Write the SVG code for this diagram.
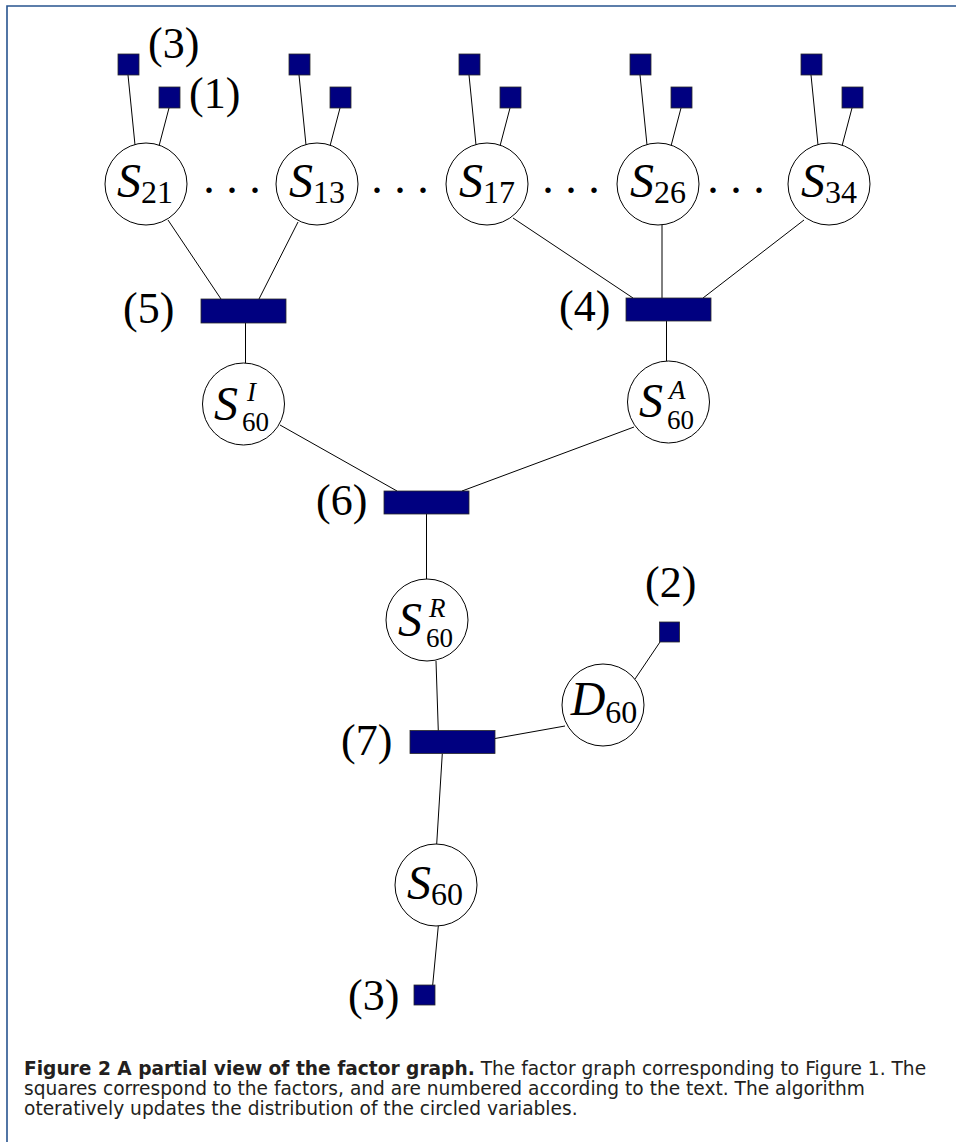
<svg xmlns="http://www.w3.org/2000/svg" width="956" height="1142" viewBox="0 0 956 1142">
<style>
  .frame{fill:none;stroke:#27548f;stroke-width:1.6}
  .fac{fill:#000080;stroke:#2a2a2a;stroke-width:0.8}
  .var{fill:#fff;stroke:#000;stroke-width:1}
  .edges line{stroke:#000;stroke-width:1}
  .lbl{font-family:"Liberation Serif",serif;font-size:44px;fill:#000}
  .m{font-family:"Liberation Serif",serif;font-style:italic;font-size:48px;fill:#000}
  .s{font-family:"Liberation Serif",serif;font-style:normal;font-size:32px}
  .si{font-family:"Liberation Serif",serif;font-style:italic;font-size:27px;fill:#000}
  .sn{font-family:"Liberation Serif",serif;font-style:normal;font-size:27px;fill:#000}
  .dots{font-family:"Liberation Serif",serif;font-size:46px;fill:#000}
  .cap{font-family:"DejaVu Sans","Liberation Sans",sans-serif;font-size:18.6px;fill:#231f20}
  .capb{font-weight:bold}
</style>
<path class="frame" d="M7 1142 V6 H956"/>

<g id="connectors" class="edges">
  <line x1="128" y1="75" x2="135" y2="145"/>
  <line x1="169" y1="108" x2="159" y2="146"/>
  <line x1="299" y1="75" x2="306" y2="145"/>
  <line x1="340" y1="108" x2="330" y2="146"/>
  <line x1="469" y1="75" x2="476" y2="145"/>
  <line x1="510" y1="108" x2="500" y2="146"/>
  <line x1="640" y1="75" x2="647" y2="145"/>
  <line x1="681" y1="108" x2="671" y2="146"/>
  <line x1="811" y1="75" x2="818" y2="145"/>
  <line x1="852" y1="108" x2="842" y2="146"/>
  <line x1="168" y1="220" x2="221" y2="299"/>
  <line x1="298" y1="222" x2="259" y2="299"/>
  <line x1="513" y1="218" x2="633" y2="298"/>
  <line x1="662" y1="225" x2="662" y2="298"/>
  <line x1="804" y1="220" x2="703" y2="298"/>
  <line x1="245.5" y1="323" x2="245.5" y2="363"/>
  <line x1="666.5" y1="321" x2="666.5" y2="361"/>
  <line x1="280" y1="425" x2="397" y2="491"/>
  <line x1="634" y1="427" x2="462" y2="491"/>
  <line x1="426.5" y1="514" x2="426.5" y2="579"/>
  <line x1="436" y1="661" x2="438.3" y2="731"/>
  <line x1="565" y1="726" x2="495" y2="738.5"/>
  <line x1="442.3" y1="753.5" x2="436.7" y2="844"/>
  <line x1="635" y1="679" x2="660" y2="642"/>
  <line x1="438.3" y1="926" x2="432.7" y2="985"/>
</g>

<g id="f3a"><rect class="fac" x="118" y="54" width="21" height="21"/><text class="lbl" x="148" y="58">(3)</text></g>
<g id="f1a"><rect class="fac" x="159" y="87" width="21" height="21"/><text class="lbl" x="189" y="108">(1)</text></g>
<g id="f13a"><rect class="fac" x="289" y="54" width="21" height="21"/></g>
<g id="f13b"><rect class="fac" x="330" y="87" width="21" height="21"/></g>
<g id="f17a"><rect class="fac" x="459" y="54" width="21" height="21"/></g>
<g id="f17b"><rect class="fac" x="500" y="87" width="21" height="21"/></g>
<g id="f26a"><rect class="fac" x="630" y="54" width="21" height="21"/></g>
<g id="f26b"><rect class="fac" x="671" y="87" width="21" height="21"/></g>
<g id="f34a"><rect class="fac" x="801" y="54" width="21" height="21"/></g>
<g id="f34b"><rect class="fac" x="842" y="87" width="21" height="21"/></g>

<g id="S21"><circle class="var" cx="146" cy="184" r="41"/><text class="m" x="145" y="197" text-anchor="middle">S<tspan class="s" dy="6">21</tspan></text></g>
<g id="S13"><circle class="var" cx="317" cy="184" r="41"/><text class="m" x="317" y="197" text-anchor="middle">S<tspan class="s" dy="6">13</tspan></text></g>
<g id="S17"><circle class="var" cx="487" cy="184" r="41"/><text class="m" x="487" y="197" text-anchor="middle">S<tspan class="s" dy="6">17</tspan></text></g>
<g id="S26"><circle class="var" cx="658" cy="184" r="41"/><text class="m" x="658" y="197" text-anchor="middle">S<tspan class="s" dy="6">26</tspan></text></g>
<g id="S34"><circle class="var" cx="829" cy="184" r="41"/><text class="m" x="829" y="197" text-anchor="middle">S<tspan class="s" dy="6">34</tspan></text></g>

<g id="dots">
  <text class="dots" x="232" y="193" text-anchor="middle">. . .</text>
  <text class="dots" x="400" y="193" text-anchor="middle">. . .</text>
  <text class="dots" x="571" y="193" text-anchor="middle">. . .</text>
  <text class="dots" x="736" y="193" text-anchor="middle">. . .</text>
</g>

<g id="f5"><rect class="fac" x="201" y="299" width="85" height="24"/><text class="lbl" x="123" y="323">(5)</text></g>
<g id="f4"><rect class="fac" x="626" y="298" width="85" height="23"/><text class="lbl" x="559" y="321">(4)</text></g>

<g id="S60I"><circle class="var" cx="243.5" cy="404" r="41"/>
  <text class="m" x="214" y="420">S</text><text class="si" x="247" y="401">I</text><text class="sn" x="242" y="431">60</text></g>
<g id="S60A"><circle class="var" cx="668.5" cy="402" r="41"/>
  <text class="m" x="639" y="417">S</text><text class="si" x="669" y="399">A</text><text class="sn" x="667" y="429">60</text></g>

<g id="f6"><rect class="fac" x="384" y="491" width="85" height="23"/><text class="lbl" x="316" y="515">(6)</text></g>

<g id="S60R"><circle class="var" cx="427" cy="620" r="41"/>
  <text class="m" x="398" y="636">S</text><text class="si" x="429" y="617">R</text><text class="sn" x="426" y="647">60</text></g>

<g id="f2"><rect class="fac" x="659.5" y="622" width="20" height="20"/><text class="lbl" x="645" y="597">(2)</text></g>

<g id="D60"><circle class="var" cx="603" cy="705" r="41"/><text class="m" x="604" y="715" text-anchor="middle">D<tspan class="s" dy="8">60</tspan></text></g>

<g id="f7"><rect class="fac" x="410" y="730.5" width="85" height="23"/><text class="lbl" x="341" y="755">(7)</text></g>

<g id="S60"><circle class="var" cx="436" cy="885" r="41"/><text class="m" x="435" y="899" text-anchor="middle">S<tspan class="s" dy="6">60</tspan></text></g>

<g id="f3b"><rect class="fac" x="414" y="985" width="21" height="20"/><text class="lbl" x="348" y="1010">(3)</text></g>

<g id="caption">
  <text class="cap" x="24" y="1075"><tspan class="capb">Figure 2 A partial view of the factor graph.</tspan> The factor graph corresponding to Figure 1. The</text>
  <text class="cap" x="24" y="1095">squares correspond to the factors, and are numbered according to the text. The algorithm</text>
  <text class="cap" x="24" y="1115">oteratively updates the distribution of the circled variables.</text>
</g>
</svg>
